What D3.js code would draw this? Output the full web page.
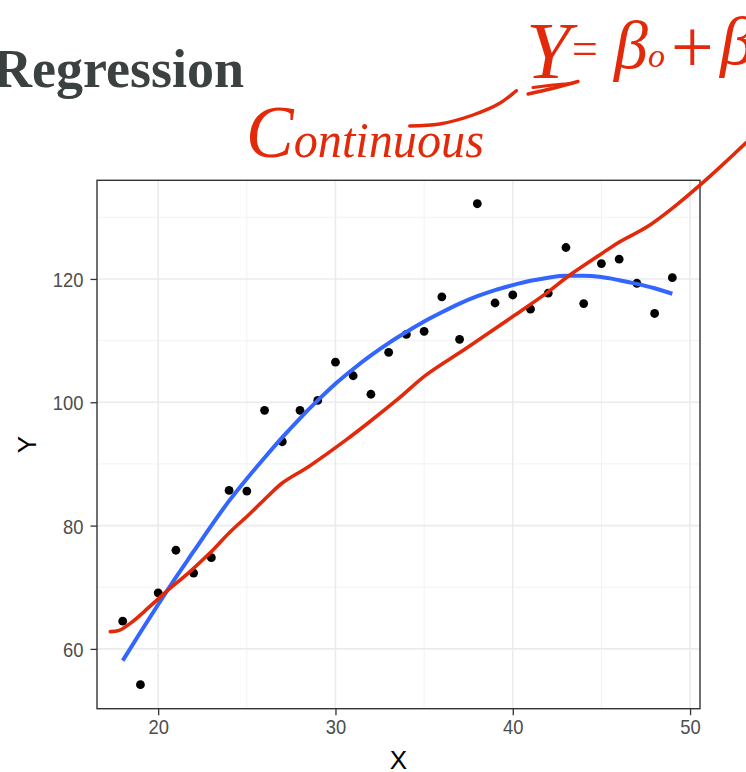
<!DOCTYPE html>
<html>
<head>
<meta charset="utf-8">
<script src="https://cdn.jsdelivr.net/npm/d3@7"></script>
<style>
  html, body { margin: 0; padding: 0; background: #fff; }
  svg { display: block; }
</style>
</head>
<body>
<svg id="chart" width="746" height="772"></svg>
<script>
// Observed points
const obsX = [18,19,20,21,22,23,24,25,26,27,28,29,30,31,32,33,34,35,36,37,38,39,40,41,42,43,44,45,46,47,48,49];
const obsY = [64.5,54.2,69.1,76.0,72.3,74.8,85.7,85.6,98.7,93.6,98.7,100.3,106.5,104.3,101.3,108.1,
              111.0,111.5,117.1,110.2,132.2,116.1,117.4,115.1,117.7,125.1,116.0,122.5,123.2,119.3,114.4,120.2];

// Smoothed fit (loess) evaluated at each x
const fitX = obsX;
const fitY = [58.1,62.7,67.2,71.6,75.8,80.0,84.0,87.6,91.0,94.3,97.4,100.3,103.0,105.4,107.6,109.6,
              111.4,113.1,114.6,116.0,117.2,118.2,119.0,119.7,120.2,120.5,120.5,120.3,119.8,119.2,118.5,117.6];

// Hand-drawn trend sketched over the plot (in data units)
const sketchX = [17.3,17.8,18.5,19.5,20.5,21.7,22.9,24.0,25.2,26.2,27.0,28.5,30.6,32.0,33.6,35.1,37.4,40.0,41.9,43.2,44.9,45.9,47.6,49.1,51.1,53.2];
const sketchY = [62.8,63.0,64.3,66.8,69.4,72.3,75.5,78.8,82.0,84.8,86.9,89.6,93.9,97.0,100.7,104.4,108.8,113.9,117.7,120.6,123.9,125.8,128.5,131.7,136.6,142.2];

// Axis ticks
const xTicks = [20, 30, 40, 50];
const xMinor = [25, 35, 45];
const yTicks = [60, 80, 100, 120];
const yMinor = [70, 90, 110, 130];

const svg = d3.select("#chart");
const panel = { left: 97, right: 700, top: 180.3, bottom: 708.7 };
const INK = "#e2290a";

const x = d3.scaleLinear().domain([16.55, 50.56]).range([panel.left, panel.right]);
const y = d3.scaleLinear().domain([50.3, 136.0]).range([panel.bottom, panel.top]);

// Title
svg.append("text")
  .attr("x", -7).attr("y", 87)
  .attr("font-family", "Liberation Serif, serif")
  .attr("font-weight", "bold")
  .attr("font-size", 54)
  .attr("fill", "#3b4040")
  .text("Regression");

// Panel clip & grid
svg.append("defs").append("clipPath").attr("id", "panel-clip")
  .append("rect")
  .attr("x", panel.left).attr("y", panel.top)
  .attr("width", panel.right - panel.left).attr("height", panel.bottom - panel.top);

const grid = svg.append("g");
grid.selectAll(".vminor").data(xMinor).join("line")
  .attr("x1", d => x(d)).attr("x2", d => x(d))
  .attr("y1", panel.top).attr("y2", panel.bottom)
  .attr("stroke", "#f0f0f0").attr("stroke-width", 0.9);
grid.selectAll(".hminor").data(yMinor).join("line")
  .attr("y1", d => y(d)).attr("y2", d => y(d))
  .attr("x1", panel.left).attr("x2", panel.right)
  .attr("stroke", "#f0f0f0").attr("stroke-width", 0.9);
grid.selectAll(".vmajor").data(xTicks).join("line")
  .attr("x1", d => x(d)).attr("x2", d => x(d))
  .attr("y1", panel.top).attr("y2", panel.bottom)
  .attr("stroke", "#ebebeb").attr("stroke-width", 1.6);
grid.selectAll(".hmajor").data(yTicks).join("line")
  .attr("y1", d => y(d)).attr("y2", d => y(d))
  .attr("x1", panel.left).attr("x2", panel.right)
  .attr("stroke", "#ebebeb").attr("stroke-width", 1.6);

// Axes
const tickFont = "Liberation Sans, Arial, sans-serif";
const xAxis = svg.append("g")
  .attr("transform", `translate(0,${panel.bottom})`)
  .call(d3.axisBottom(x).tickValues(xTicks).tickSize(6.5).tickPadding(5).tickFormat(d3.format("d")));
const yAxis = svg.append("g")
  .attr("transform", `translate(${panel.left},0)`)
  .call(d3.axisLeft(y).tickValues(yTicks).tickSize(6.5).tickPadding(7).tickFormat(d3.format("d")));
[xAxis, yAxis].forEach(g => {
  g.select(".domain").remove();
  g.selectAll(".tick line").attr("stroke", "#333").attr("stroke-width", 1.3);
  g.selectAll(".tick text")
    .attr("font-family", tickFont).attr("font-size", 20).attr("fill", "#4d4d4d");
});
xAxis.selectAll(".tick text").attr("transform", "scale(0.92,1)");
yAxis.selectAll(".tick text").attr("dy", "0.38em")
  .attr("x", -(6.5 + 7) / 0.92).attr("transform", "scale(0.92,1)");

// Axis titles
svg.append("text")
  .attr("x", (panel.left + panel.right) / 2).attr("y", 769)
  .attr("text-anchor", "middle")
  .attr("font-family", tickFont).attr("font-size", 26).attr("fill", "#000")
  .text("X");
svg.append("text")
  .attr("transform", `translate(35.5,${(panel.top + panel.bottom) / 2}) rotate(-90)`)
  .attr("text-anchor", "middle")
  .attr("font-family", tickFont).attr("font-size", 26).attr("fill", "#000")
  .text("Y");

// Points and fitted curve
const plot = svg.append("g").attr("clip-path", "url(#panel-clip)");
const pts = obsX.map((d, i) => [d, obsY[i]]);
plot.selectAll("circle").data(pts).join("circle")
  .attr("cx", d => x(d[0])).attr("cy", d => y(d[1]))
  .attr("r", 4.4).attr("fill", "#000");

const fit = fitX.map((d, i) => [d, fitY[i]]);
plot.append("path")
  .datum(fit)
  .attr("d", d3.line().x(d => x(d[0])).y(d => y(d[1])).curve(d3.curveMonotoneX))
  .attr("fill", "none").attr("stroke", "#3366ff").attr("stroke-width", 4);

// Panel border
svg.append("rect")
  .attr("x", panel.left).attr("y", panel.top)
  .attr("width", panel.right - panel.left).attr("height", panel.bottom - panel.top)
  .attr("fill", "none").attr("stroke", "#333").attr("stroke-width", 1.4);

// Hand-drawn overlay (not clipped)
const ink = svg.append("g").attr("fill", "none").attr("stroke", INK)
  .attr("stroke-linecap", "round").attr("stroke-linejoin", "round");

const sketch = sketchX.map((d, i) => [d, sketchY[i]]);
ink.append("path")
  .datum(sketch)
  .attr("d", d3.line().x(d => x(d[0])).y(d => y(d[1])).curve(d3.curveCatmullRom))
  .attr("stroke-width", 3.6);

// connector from the word to the formula, and underlines beneath Y
const pen = d3.line().curve(d3.curveCatmullRom);
ink.append("path").attr("stroke-width", 3.4)
  .attr("d", pen([[409.7,126],[439.7,124],[473,115],[499.7,103.3],[516.3,90.7]]));
ink.append("path").attr("stroke-width", 3.4)
  .attr("d", pen([[528,94],[550,89],[578,81.5]]));
ink.append("path").attr("stroke-width", 3.2)
  .attr("d", pen([[533,87.5],[553,85],[572,83.5]]));

const hand = svg.append("g")
  .attr("font-family", "Liberation Serif, serif")
  .attr("font-style", "italic")
  .attr("fill", INK);

const word = hand.append("text").attr("x", 246).attr("y", 157)
  .attr("textLength", 238).attr("lengthAdjust", "spacingAndGlyphs");
word.append("tspan").attr("font-size", 74).text("C");
word.append("tspan").attr("font-size", 50).text("ontinuous");

hand.append("text").attr("x", 526).attr("y", 78).attr("font-size", 80).text("Y");
hand.append("text").attr("x", 569).attr("y", 64).attr("font-size", 46).text("=");
hand.append("text").attr("x", 614).attr("y", 68).attr("font-size", 68).text("β");
hand.append("text").attr("x", 648).attr("y", 67).attr("font-size", 34).text("o");
hand.append("text").attr("x", 666).attr("y", 72).attr("font-size", 76).text("+");
hand.append("text").attr("x", 720).attr("y", 64).attr("font-size", 68).text("β");
</script>
</body>
</html>
